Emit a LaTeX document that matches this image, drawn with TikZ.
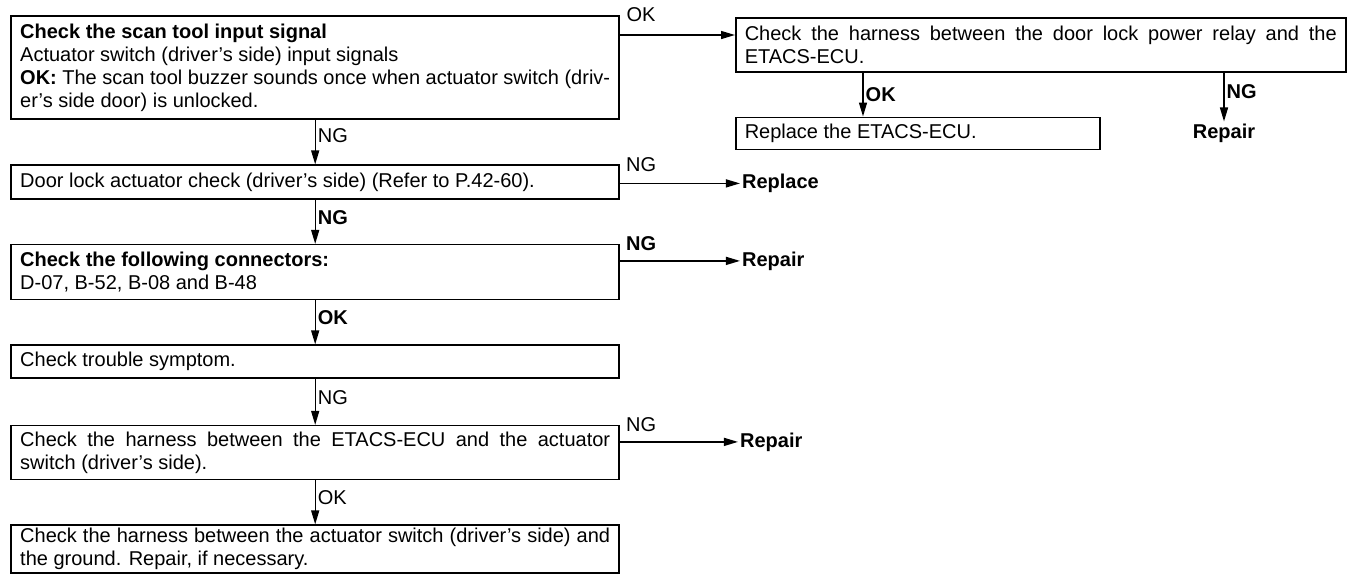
\documentclass[tikz,border=0pt]{standalone}
\usepackage{fontspec}
\setmainfont{Liberation Sans}
\usetikzlibrary{arrows.meta, positioning}

\begin{document}
\begin{tikzpicture}[x=1pt, y=-1pt,
        chk/.style={draw, line width=1.5pt, anchor=north west, inner xsep=9pt, inner ysep=0pt,
            text width=590pt, align=justify, font=\fontsize{20pt}{23pt}\selectfont},
        lbl/.style={inner sep=2pt, font=\fontsize{20pt}{23pt}\selectfont},
        res/.style={inner sep=2pt, font=\fontsize{20pt}{23pt}\selectfont\bfseries},
        flow/.style={-{Triangle[length=14pt, width=8pt]}, line width=1.4pt}
    ]
        \useasboundingbox (0,0) rectangle (1350,574);
        \node[chk, line width=2.4pt, minimum height=103pt] (b1) at (10,15)
            {\textbf{Check the scan tool input signal}\\
             Actuator switch (driver’s side) input signals\par
             \noindent\hangindent=42pt\hangafter=1 \textbf{OK:} The scan tool buzzer sounds once when actuator switch (driv-\linebreak er’s side door) is unlocked.};
        \node[chk, below=44pt of b1, minimum height=34pt] (b2) {Door lock actuator check (driver’s side) (Refer to P.42-60).};
        \node[chk, below=44pt of b2, minimum height=55pt] (b3) {\textbf{Check the following connectors:}\\ D-07, B-52, B-08 and B-48};
        \node[chk, below=44pt of b3, minimum height=33pt] (b4) {Check trouble symptom.};
        \node[chk, below=46pt of b4, minimum height=54pt] (b5) {Check the harness between the ETACS-ECU and the actuator\linebreak switch (driver’s side).};
        \node[chk, below=44pt of b5, minimum height=48pt] (b6) {Check the harness between the actuator switch (driver’s side) and\linebreak the ground. Repair, if necessary.};
        \node[chk, text width=592pt, minimum height=54pt] (r1) at (735,17) {Check the harness between the door lock power relay and the\linebreak ETACS-ECU.};
        \node[chk, text width=346pt, minimum height=32pt, below=44pt of r1.south west, anchor=north west] (r2) {Replace the ETACS-ECU.};
        \node[res, anchor=west] (x1) at ([xshift=120pt, yshift=-19pt]b2.north east) {Replace};
        \node[res, anchor=west] (x2) at ([xshift=120pt, yshift=-17pt]b3.north east) {Repair};
        \node[res, anchor=west] (x4) at ([xshift=118pt, yshift=-17pt]b5.north east) {Repair};
        \node[res] (x3) at (1224,133) {Repair};
        \node[lbl, anchor=west] at ([xshift=4pt]b1.north east) {OK};
        \node[lbl, anchor=west] at ([xshift=4pt]b2.north east) {NG};
        \node[res, anchor=west] at ([xshift=4pt]b3.north east) {NG};
        \node[lbl, anchor=west] at ([xshift=4pt]b5.north east) {NG};
        \draw[flow] ([yshift=-20pt]b1.north east) -- ([yshift=-20pt]b1.north east -| r1.west);
        \draw[flow] ([yshift=-19pt]b2.north east) -- (x1);
        \draw[flow] ([yshift=-17pt]b3.north east) -- (x2);
        \draw[flow] ([yshift=-17pt]b5.north east) -- (x4);
        \draw[flow] (b1.south) -- node[lbl, right, pos=.35] {NG} (b2.north);
        \draw[flow] (b2.south) -- node[res, right, pos=.4] {NG} (b3.north);
        \draw[flow] (b3.south) -- node[res, right, pos=.4] {OK} (b4.north);
        \draw[flow] (b4.south) -- node[lbl, right, pos=.4] {NG} (b5.north);
        \draw[flow] (b5.south) -- node[lbl, right, pos=.4] {OK} (b6.north);
        \draw[flow] ([xshift=128pt]r1.south west) -- ([xshift=128pt]r1.south west |- r2.north) node[res, right, midway] {OK};
        \draw[flow] (r1.south -| x3) -- node[res, right, pos=.4] {NG} (x3);
    \end{tikzpicture}
\end{document}
